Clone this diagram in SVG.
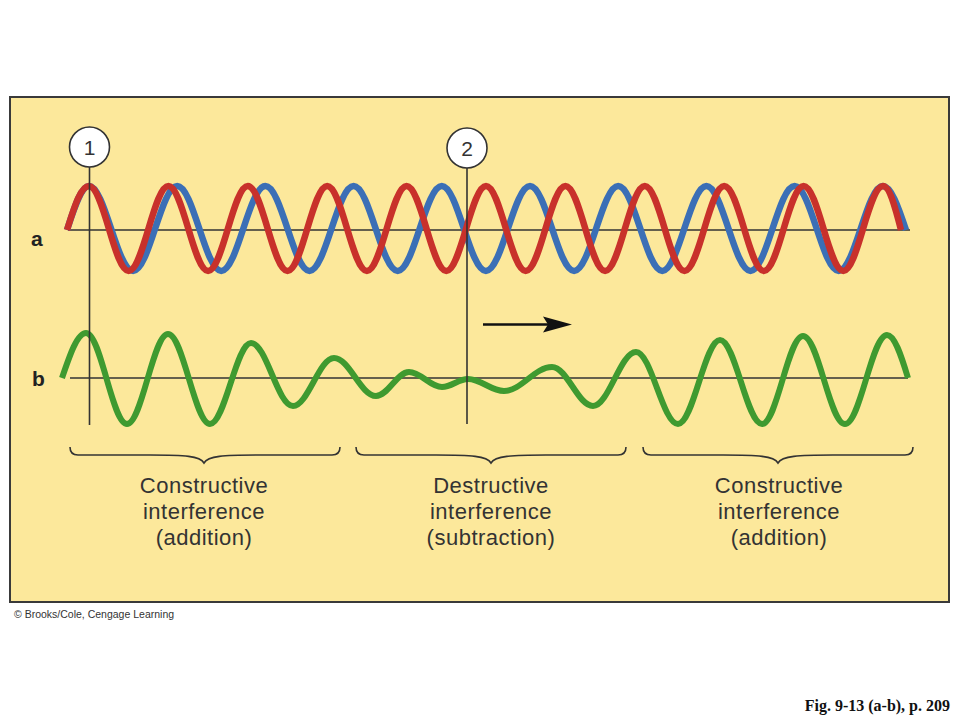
<svg xmlns="http://www.w3.org/2000/svg" width="960" height="720" viewBox="0 0 960 720">
<style>
.frame{fill:#FCE89B;stroke:#3a3a3a;stroke-width:2}
.axis{fill:none;stroke:#333;stroke-width:1.6}
.wave{fill:none;stroke-linecap:butt;stroke-linejoin:round}
.red{stroke:#C8312B;stroke-width:6.5}
.blue{stroke:#3B6FB6;stroke-width:6.5}
.green{stroke:#3F9A30;stroke-width:6}
.brace{fill:none;stroke:#333;stroke-width:1.6}
.cap{font-family:"Liberation Sans",Arial,sans-serif;font-size:22px;fill:#333;text-anchor:middle;letter-spacing:0.5px}
.lbl{font-family:"Liberation Sans",Arial,sans-serif;font-size:21px;font-weight:bold;fill:#222}
.num{font-family:"Liberation Sans",Arial,sans-serif;font-size:21px;fill:#333;text-anchor:middle}
.mark{fill:#fff;stroke:#333;stroke-width:1.6}
</style>
<rect width="960" height="720" fill="#fff"/>
<g id="panel">
<rect class="frame" x="10" y="97" width="939" height="505"/>
</g>
<g id="axes">
<line class="axis" x1="68" y1="230" x2="910" y2="230"/>
<line class="axis" x1="70" y1="378" x2="908" y2="378"/>
</g>
<g id="wave-blue">
<path class="wave blue" d="M67,230 C74.2,208 81,186 89,186 C105,186 117.1,271 133.1,271 S161.2,186 177.2,186 S205.3,271 221.3,271 S249.4,186 265.4,186 S293.5,271 309.5,271 S337.6,186 353.6,186 S381.7,271 397.7,271 S425.8,186 441.8,186 S469.9,271 485.9,271 S514,186 530,186 S558.1,271 574.1,271 S602.2,186 618.2,186 S646.3,271 662.3,271 S690.4,186 706.4,186 S734.5,271 750.5,271 S778.6,186 794.6,186 S822.7,271 838.7,271 S866.8,186 882.8,186 C891.1,186 898.3,206.7 906,230"/>
</g>
<g id="wave-red">
<path class="wave red" d="M67,230 C74,208 80.6,186 89,186 C103.4,186 114.3,271 128.7,271 S154,186 168.4,186 S193.7,271 208.1,271 S233.4,186 247.8,186 S273.1,271 287.5,271 S312.8,186 327.2,186 S352.5,271 366.9,271 S392.2,186 406.6,186 S431.9,271 446.3,271 S471.6,186 486,186 S511.3,271 525.7,271 S551,186 565.4,186 S590.7,271 605.1,271 S630.4,186 644.8,186 S670.1,271 684.5,271 S709.8,186 724.2,186 S749.5,271 763.9,271 S789.2,186 803.6,186 S828.9,271 843.3,271 S868.6,186 883,186 C889.5,186 895.1,206.7 901,230"/>
</g>
<g id="wave-green">
<path class="wave green" d="M62,378 C69.8,355 77.3,333 86,333 C100.9,333 112.1,424 127,424 C141.9,424 153.1,334 168,334 C183.3,334 194.7,424 210,424 C224.9,424 236.1,343 251,343 C266.3,343 277.7,406 293,406 C307.9,406 319.1,358 334,358 C349.3,358 360.7,396 376,396 C388,396 397,372 409,372 C421,372 430,387 442,387 C451.4,387 458.6,379 468,379 C481.1,379 490.9,391 504,391 C521.4,391 534.6,367 552,367 C566.9,367 578.1,406 593,406 C608.6,406 620.4,352 636,352 C651.3,352 662.7,424 678,424 C693.3,424 704.7,340 720,340 C735.3,340 746.7,424 762,424 C776.9,424 788.1,336 803,336 C818.3,336 829.7,424 845,424 C860.3,424 871.7,335 887,335 C894.6,335 901.2,355.5 908,378"/>
</g>
<g id="connectors">
<line class="axis" x1="89.5" y1="167" x2="89.5" y2="425"/>
<line class="axis" x1="467" y1="168" x2="467" y2="424"/>
<line x1="483" y1="324.5" x2="552" y2="324.5" stroke="#111" stroke-width="2.6"/>
<polygon points="543,316.5 572,324.5 543,332.5 548,324.5" fill="#111"/>
</g>
<g id="marker-1">
<circle class="mark" cx="89.5" cy="147" r="20"/>
<text class="num" x="89.5" y="155">1</text>
</g>
<g id="marker-2">
<circle class="mark" cx="467" cy="148" r="20"/>
<text class="num" x="467" y="156">2</text>
</g>
<g id="label-a"><text class="lbl" x="31" y="246">a</text></g>
<g id="label-b"><text class="lbl" x="32" y="386">b</text></g>
<g id="brace-1">
<path class="brace" d="M70,447 C70,452 72,455 78,455 L150,455 C185,455 200,456 204,463 C208,456 223,455 258,455 L332,455 C338,455 340,452 340,447"/>
<text class="cap" x="204" y="493">Constructive</text>
<text class="cap" x="204" y="519">interference</text>
<text class="cap" x="204" y="545">(addition)</text>
</g>
<g id="brace-2">
<path class="brace" d="M356,447 C356,452 358,455 364,455 L436,455 C471,455 487,456 491,463 C495,456 511,455 546,455 L618,455 C624,455 626,452 626,447"/>
<text class="cap" x="491" y="493">Destructive</text>
<text class="cap" x="491" y="519">interference</text>
<text class="cap" x="491" y="545">(subtraction)</text>
</g>
<g id="brace-3">
<path class="brace" d="M643,447 C643,452 645,455 651,455 L723,455 C758,455 774,456 778,463 C782,456 798,455 833,455 L905,455 C911,455 913,452 913,447"/>
<text class="cap" x="779" y="493">Constructive</text>
<text class="cap" x="779" y="519">interference</text>
<text class="cap" x="779" y="545">(addition)</text>
</g>
<g id="credits">
<text x="14" y="618" font-family="Liberation Sans, Arial, sans-serif" font-size="10.5" fill="#333">© Brooks/Cole, Cengage Learning</text>
<text x="950" y="711" font-family="Liberation Serif, Times New Roman, serif" font-size="16" font-weight="bold" fill="#111" text-anchor="end">Fig. 9-13 (a-b), p. 209</text>
</g>
</svg>
